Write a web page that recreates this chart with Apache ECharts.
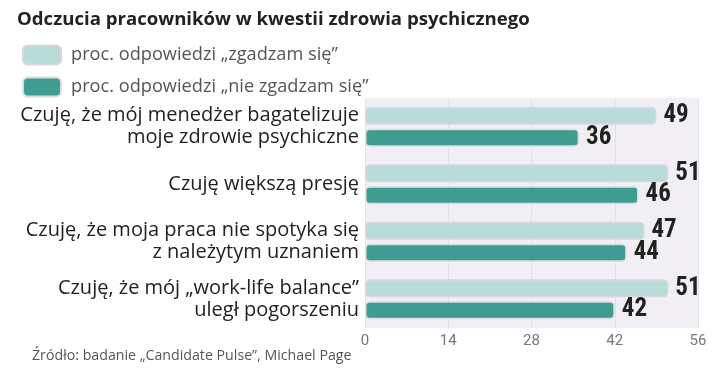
<!DOCTYPE html>
<html><head><meta charset="utf-8">
<script src="https://cdn.jsdelivr.net/npm/echarts@6/dist/echarts.min.js"></script>
<style>html,body{margin:0;padding:0;background:#fff}#c{width:720px;height:368px}</style>
</head><body><div id="c"></div>
<script>
const categories = [
  "Czuję, że mój menedżer bagatelizuje\nmoje zdrowie psychiczne",
  "Czuję większą presję",
  "Czuję, że moja praca nie spotyka się\nz należytym uznaniem",
  "Czuję, że mój „work-life balance”\nuległ pogorszeniu"
];
const agree = [49, 51, 47, 51];
const disagree = [36, 46, 44, 42];
const seriesNames = ["proc. odpowiedzi „zgadzam się”", "proc. odpowiedzi „nie zgadzam się”"];
const axisTicks = [0, 14, 28, 42, 56];

const chart = echarts.init(document.getElementById('c'));
const valueLabel = {
  show: true, position: 'right', distance: 7,
  fontFamily: "'Roboto Condensed', 'DejaVu Sans Condensed', sans-serif", fontWeight: 'bold', fontSize: 25, color: '#222'
};
chart.setOption({
  animation: false,
  title: {
    text: 'Odczucia pracowników w kwestii zdrowia psychicznego',
    left: 12, top: 5,
    textStyle: { fontFamily: 'Open Sans', fontWeight: 'bold', fontSize: 18.6, color: '#222' }
  },
  legend: {
    orient: 'vertical', left: 17, top: 39.5, itemGap: 11,
    itemWidth: 38, itemHeight: 19, icon: 'roundRect',
    textStyle: { fontFamily: 'Open Sans', fontSize: 18.2, lineHeight: 19, color: '#555', padding: [0, 0, 0, 5] },
    data: seriesNames
  },
  grid: {
    left: 365, right: 22, top: 98, bottom: 40,
    show: true, backgroundColor: '#f1eff4', borderWidth: 0
  },
  xAxis: {
    type: 'value', min: axisTicks[0], max: axisTicks[axisTicks.length - 1], interval: 14,
    axisLine: { show: false }, axisTick: { show: false },
    splitLine: { lineStyle: { color: '#e3e1e8', width: 1 } },
    axisLabel: { fontFamily: 'Roboto', fontSize: 15, color: '#777', margin: 6 }
  },
  yAxis: {
    type: 'category', data: categories, inverse: true,
    axisLine: { show: false }, axisTick: { show: false },
    axisLabel: { margin: 6, fontFamily: 'Open Sans', fontSize: 20, color: '#222', lineHeight: 22, align: 'right' }
  },
  series: [
    {
      name: seriesNames[0], type: 'bar', data: agree, barWidth: 18, barGap: '22%',
      itemStyle: { color: '#b9dcd9', borderColor: '#d8d6de', borderWidth: 1.5, borderRadius: 4 },
      label: valueLabel
    },
    {
      name: seriesNames[1], type: 'bar', data: disagree, barWidth: 18,
      itemStyle: { color: '#3f9c90', borderColor: '#dcdce2', borderWidth: 1.5, borderRadius: 4 },
      label: valueLabel
    }
  ],
  graphic: [{
    type: 'text', left: 32, top: 349,
    style: { text: 'Źródło: badanie „Candidate Pulse”, Michael Page', fontFamily: 'Open Sans', fontSize: 14.2, fill: '#555' }
  }]
});
</script></body></html>
